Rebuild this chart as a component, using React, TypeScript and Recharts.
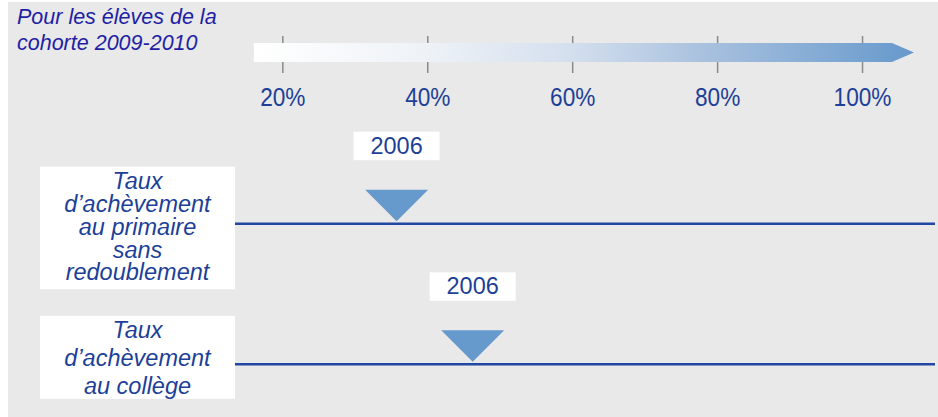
import React from 'react';
import { ScatterChart, Scatter, XAxis, YAxis, ReferenceLine, ReferenceArea } from 'recharts';

const TITLE_LINES = ['Pour les élèves de la', 'cohorte 2009-2010'];
const TICKS = [20, 40, 60, 80, 100];
const TICK_LABELS = ['20%', '40%', '60%', '80%', '100%'];
const X_DOMAIN = [13.4, 110];
const ARROW_RANGE = [16, 107.1];
const ROW_IDS = [1, 2];
const ROW_LABELS = [
  ['Taux', 'd’achèvement', 'au primaire', 'sans', 'redoublement'],
  ['Taux', 'd’achèvement', 'au collège'],
];
const MARKER_VALUES = [35.7, 46.2];
const MARKER_YEARS = ['2006', '2006'];

const W = 930;
const H = 415;
const PLOT_TOP = 41;
const FONT = '"Liberation Sans", Arial, sans-serif';
const TEXT_BLUE = '#1d3f98';
const LINE_BLUE = '#2146a3';
const MARK_BLUE = '#6699cc';

// per-row box geometry, relative to the row line
const ROW_LAYOUT = [
  { top: -57, bottom: 65.5, first: -34.5, lh: 22.8 },
  { top: -48.5, bottom: 34.5, first: -26.3, lh: 28 },
];

const data = MARKER_VALUES.map((v, i) => ({ x: v, y: ROW_IDS[i], year: MARKER_YEARS[i] }));

const XTick = (props: any) => {
  const { x, y, payload } = props;
  const idx = TICKS.indexOf(payload.value);
  return (
    <g>
      <line x1={x} x2={x} y1={y - 7} y2={y} stroke="#8a8a8a" strokeWidth={1.5} />
      <line x1={x} x2={x} y1={y + 19} y2={y + 30} stroke="#8a8a8a" strokeWidth={1.5} />
      {/* labels in the source are a bit condensed */}
      <g transform={`translate(${x},${y + 63}) scale(0.87,1)`}>
        <text x={0} y={0} textAnchor="middle" fontFamily={FONT} fontSize={26} fill={TEXT_BLUE}>
          {TICK_LABELS[idx]}
        </text>
      </g>
    </g>
  );
};

const YTick = (props: any) => {
  const { x, y, payload } = props;
  const i = ROW_IDS.indexOf(payload.value);
  const lay = ROW_LAYOUT[i];
  return (
    <g>
      <rect x={x - 195} y={y + lay.top} width={195} height={lay.bottom - lay.top} fill="#ffffff" />
      {ROW_LABELS[i].map((t, k) => (
        <text
          key={k}
          x={x - 97.5}
          y={y + lay.first + k * lay.lh}
          textAnchor="middle"
          fontFamily={FONT}
          fontStyle="italic"
          fontSize={23.5}
          fill={TEXT_BLUE}
        >
          {t}
        </text>
      ))}
    </g>
  );
};

const Arrow = (props: any) => {
  const { x, width } = props;
  const x2 = x + width;
  const top = PLOT_TOP;
  const bot = PLOT_TOP + 19;
  return (
    <g>
      <defs>
        <linearGradient id="scaleGrad" x1="0" x2="1" y1="0" y2="0">
          <stop offset="0" stopColor="#ffffff" />
          <stop offset="0.26" stopColor="#eef2f7" />
          <stop offset="0.48" stopColor="#d4dfee" />
          <stop offset="0.69" stopColor="#a7c0de" />
          <stop offset="1" stopColor="#6699cc" />
        </linearGradient>
      </defs>
      <polygon
        points={`${x},${top} ${x2 - 22},${top} ${x2},${(top + bot) / 2} ${x2 - 22},${bot} ${x},${bot}`}
        fill="url(#scaleGrad)"
      />
    </g>
  );
};

const Marker = (props: any) => {
  const { cx, cy, payload } = props;
  return (
    <g>
      <rect x={cx - 43} y={cy - 92} width={86} height={28.5} fill="#ffffff" />
      <text x={cx} y={cy - 70} textAnchor="middle" fontFamily={FONT} fontSize={23.5} fill={TEXT_BLUE}>
        {payload.year}
      </text>
      <polygon points={`${cx - 31.5},${cy - 34} ${cx + 31.5},${cy - 34} ${cx},${cy - 2.5}`} fill={MARK_BLUE} />
    </g>
  );
};

export default function App() {
  return (
    <div style={{ position: 'absolute', left: 8, top: 2, width: W, height: H, background: '#e9e9e9' }}>
      <ScatterChart width={W} height={H} margin={{ top: 0, right: 3, left: 0, bottom: 0 }}>
        <XAxis
          type="number"
          dataKey="x"
          orientation="top"
          domain={X_DOMAIN}
          ticks={TICKS}
          height={PLOT_TOP}
          axisLine={false}
          tickLine={false}
          tickSize={0}
          tickMargin={0}
          tick={<XTick />}
          allowDataOverflow
        />
        <YAxis
          type="number"
          dataKey="y"
          domain={[1, 2]}
          ticks={ROW_IDS}
          reversed
          width={227}
          padding={{ top: 180.7, bottom: 52.7 }}
          axisLine={false}
          tickLine={false}
          tickSize={0}
          tickMargin={0}
          tick={<YTick />}
        />
        <ReferenceArea x1={ARROW_RANGE[0]} x2={ARROW_RANGE[1]} shape={<Arrow />} />
        {ROW_IDS.map((r) => (
          <ReferenceLine key={r} y={r} stroke={LINE_BLUE} strokeWidth={2.5} />
        ))}
        <Scatter data={data} shape={<Marker />} isAnimationActive={false} />
      </ScatterChart>
      <div
        style={{
          position: 'absolute',
          left: 9,
          top: 3,
          fontFamily: FONT,
          fontStyle: 'italic',
          fontSize: 21.5,
          lineHeight: '25.7px',
          color: '#1f1fa5',
        }}
      >
        {TITLE_LINES.map((t, i) => (
          <div key={i}>{t}</div>
        ))}
      </div>
    </div>
  );
}
